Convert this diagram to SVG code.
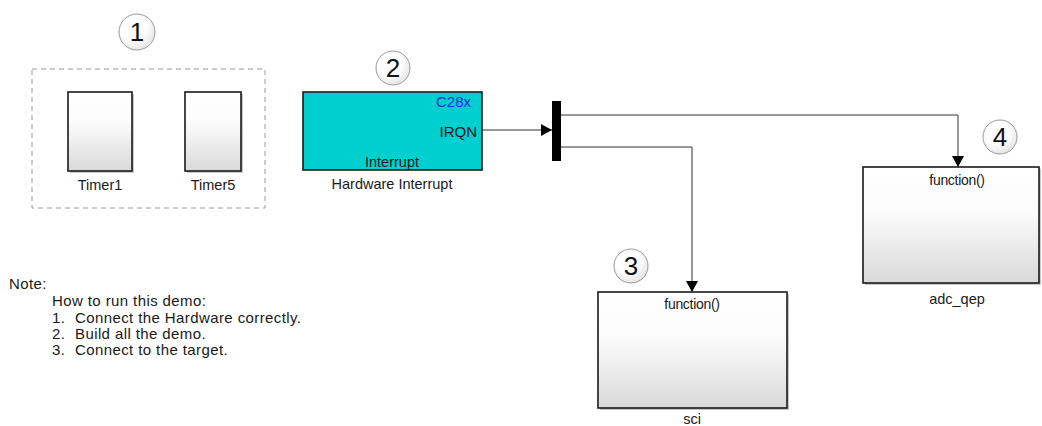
<svg xmlns="http://www.w3.org/2000/svg" width="1042" height="426" viewBox="0 0 1042 426">
<defs>
<linearGradient id="gb" x1="0" y1="0" x2="0" y2="1">
<stop offset="0" stop-color="#ffffff"/>
<stop offset="0.4" stop-color="#fbfbfb"/>
<stop offset="1" stop-color="#d9d9d9"/>
</linearGradient>
<radialGradient id="gc" cx="0.4" cy="0.35" r="0.7">
<stop offset="0.5" stop-color="#ffffff"/>
<stop offset="1" stop-color="#e2e2e2"/>
</radialGradient>
<marker id="arr" markerWidth="12" markerHeight="12" refX="11" refY="6" orient="auto" markerUnits="userSpaceOnUse">
<path d="M0,0 L11,6 L0,12 Z" fill="#000"/>
</marker>
</defs>
<style>
text{font-family:"Liberation Sans",Arial,sans-serif;fill:#1a1a1a}
.lbl{font-size:14.5px;text-anchor:middle}
.num{font-size:26px;text-anchor:middle;fill:#111}
.circ{fill:url(#gc);stroke:#9a9a9a;stroke-width:1}
.blk{fill:url(#gb);stroke:#1a1a1a;stroke-width:1.6}
.shadow{fill:#c8c8c8}
.wire{fill:none;stroke:#333;stroke-width:1}
.note{font-size:15px;letter-spacing:0.4px}
.fn{font-size:14px;text-anchor:middle;letter-spacing:-0.3px}
</style>
<rect width="1042" height="426" fill="#fff"/>

<g id="marker1">
<circle class="circ" cx="137" cy="32" r="18"/>
<text class="num" x="137" y="41">1</text>
</g>
<g id="group1">
<rect x="32" y="69" width="233" height="139" fill="none" stroke="#9a9a9a" stroke-width="1" stroke-dasharray="5,4"/>
</g>
<g id="timer1">
<rect class="shadow" x="70" y="94" width="64" height="79"/>
<rect class="blk" x="68" y="92" width="64" height="79"/>
<text class="lbl" x="100" y="190">Timer1</text>
</g>
<g id="timer5">
<rect class="shadow" x="187" y="94" width="56" height="79"/>
<rect class="blk" x="185" y="92" width="56" height="79"/>
<text class="lbl" x="213" y="190">Timer5</text>
</g>

<g id="marker2">
<circle class="circ" cx="393" cy="68" r="17"/>
<text class="num" x="393" y="77">2</text>
</g>
<g id="hwint">
<rect x="303" y="92" width="179" height="78" fill="#00cfcf" stroke="#1a1a1a" stroke-width="1.6"/>
<text x="471" y="107" font-size="15" text-anchor="end" style="fill:#1030d0">C28x</text>
<text x="477" y="137" font-size="15" text-anchor="end">IRQN</text>
<text x="392" y="167" font-size="14.5" text-anchor="middle">Interrupt</text>
<text class="lbl" x="392" y="189" font-size="15">Hardware Interrupt</text>
</g>

<g id="demux">
<rect x="552" y="101" width="9" height="60" fill="#000"/>
</g>

<g id="marker3">
<circle class="circ" cx="631" cy="266" r="17"/>
<text class="num" x="631" y="275">3</text>
</g>
<g id="sci">
<rect class="shadow" x="600" y="294" width="189" height="116"/>
<rect class="blk" x="598" y="292" width="189" height="116"/>
<text class="fn" x="692" y="309">function()</text>
<text class="lbl" x="692" y="424">sci</text>
</g>

<g id="marker4">
<circle class="circ" cx="1000" cy="137" r="17"/>
<text class="num" x="1000" y="146">4</text>
</g>
<g id="adc_qep">
<rect class="shadow" x="865" y="169" width="176" height="116"/>
<rect class="blk" x="863" y="167" width="176" height="116"/>
<text class="fn" x="957" y="185">function()</text>
<text class="lbl" x="957" y="304">adc_qep</text>
</g>

<g id="connectors">
<path class="wire" d="M482,130 H552" marker-end="url(#arr)"/>
<path class="wire" d="M561,115 H958 V167" marker-end="url(#arr)"/>
<path class="wire" d="M561,147 H692 V292" marker-end="url(#arr)"/>
</g>

<g id="note">
<text class="note" x="9" y="289">Note:</text>
<text class="note" x="52" y="306">How to run this demo:</text>
<text class="note" y="323"><tspan x="52">1.</tspan><tspan x="75">Connect the Hardware correctly.</tspan></text>
<text class="note" y="339"><tspan x="52">2.</tspan><tspan x="75">Build all the demo.</tspan></text>
<text class="note" y="355"><tspan x="52">3.</tspan><tspan x="75">Connect to the target.</tspan></text>
</g>
</svg>
